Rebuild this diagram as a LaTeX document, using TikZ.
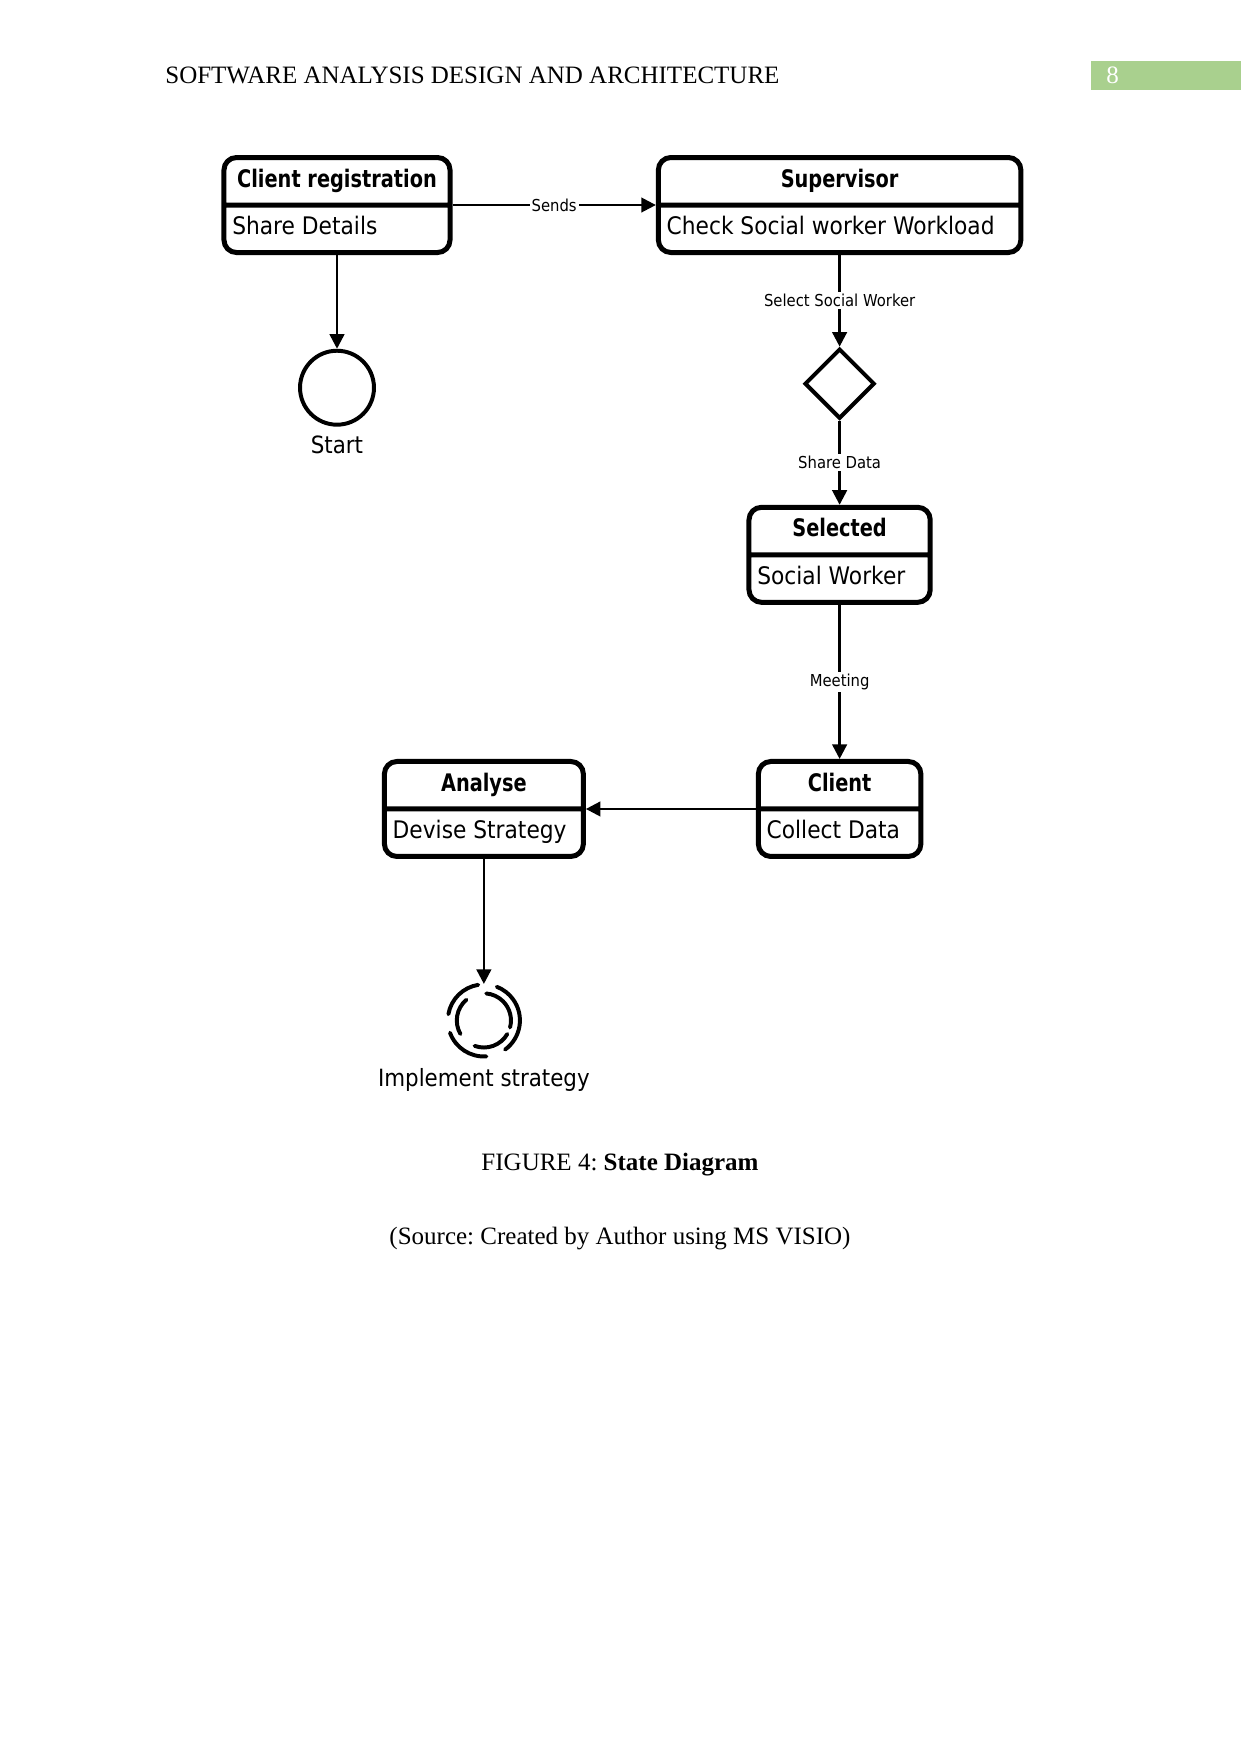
\documentclass[tikz,border=0pt]{standalone}
\usepackage{fontspec}
\setmainfont{Liberation Serif}
\newfontfamily\diafont[FakeStretch=0.9]{DejaVu Sans}
\newfontfamily\diatitle[FakeStretch=0.8]{DejaVu Sans}
\usetikzlibrary{arrows.meta,positioning,shapes.geometric,shapes.multipart}
\definecolor{pagegreen}{HTML}{A9D08E}
\frenchspacing
\tikzset{
  statebox/.style={rectangle split, rectangle split parts=2, rectangle split part align={center,left}, draw, line width=2.4pt, rounded corners=6pt, inner xsep=4pt, inner ysep=3.2pt, font=\diafont\fontsize{11.6}{14}\selectfont},
  endcircle/.style={circle, draw, line width=1.9pt, minimum size=35.5pt, inner sep=0pt},
  choice/.style={diamond, draw, line width=1.9pt, minimum size=33.6pt, inner sep=0pt},
  ringarc/.style={line width=1.9pt, line cap=round},
  flow/.style={-{Triangle[length=7pt,width=7pt]}, line width=1.2pt},
  flowlabel/.style={fill=white, inner sep=1pt, font=\diafont\fontsize{7.9}{9}\selectfont},
  caplabel/.style={font=\diafont\fontsize{11.4}{14}\selectfont}
}

\begin{document}
\begin{tikzpicture}[x=0.48pt, y=-0.48pt]
\useasboundingbox (0,0) rectangle (1241,1754);
% page header
\node[anchor=west, font=\fontsize{12}{14}\selectfont] (header) at (158,75) {SOFTWARE ANALYSIS DESIGN AND ARCHITECTURE};
\fill[pagegreen] (1091,61) rectangle (1241,90);
\node[anchor=west, text=white, font=\fontsize{12}{14}\selectfont] (pagenum) at (1099,75) {8};

% states
\node[statebox, minimum width=108.5pt] (reg) at (337,205) {\diatitle\bfseries\strut Client registration\nodepart{two}\strut Share Details};
\node[statebox, minimum width=174pt, right=97.6pt of reg] (sup) {\diatitle\bfseries\strut Supervisor\nodepart{two}\strut Check Social worker Workload};
\node[endcircle, below=45pt of reg] (start) {};
\node[caplabel, below=1pt of start] (startlbl) {Start};
\node[choice, below=44pt of sup] (dec) {};
\node[statebox, minimum width=87pt, below=40.4pt of dec] (sel) {\diatitle\bfseries\strut Selected\nodepart{two}\strut Social Worker};
\node[statebox, minimum width=78pt, below=74pt of sel] (cli) {\diatitle\bfseries\strut Client\nodepart{two}\strut Collect Data};
\node[statebox, minimum width=95.5pt, left=81.6pt of cli] (ana) {\diatitle\bfseries\strut Analyse\nodepart{two}\strut Devise Strategy};
\node[circle, minimum size=34.6pt, inner sep=0pt, below=60pt of ana] (impl) {};
\node[caplabel, below=2pt of impl] (impllbl) {Implement strategy};

% broken rings of the final state
\draw[ringarc] ([shift={(99:17.3pt)}]impl.center) arc[start angle=99, end angle=170, radius=17.3pt];
\draw[ringarc] ([shift={(200:17.3pt)}]impl.center) arc[start angle=200, end angle=274, radius=17.3pt];
\draw[ringarc] ([shift={(-54:17.3pt)}]impl.center) arc[start angle=-54, end angle=69, radius=17.3pt];
\draw[ringarc] ([shift={(-15:13pt)}]impl.center) arc[start angle=-15, end angle=85, radius=13pt];
\draw[ringarc] ([shift={(-110:13pt)}]impl.center) arc[start angle=-110, end angle=-30, radius=13pt];
\draw[ringarc] ([shift={(130:13pt)}]impl.center) arc[start angle=130, end angle=210, radius=13pt];

% transitions
\draw[flow] (reg) -- node[flowlabel] {Sends} (sup);
\draw[flow] (reg) -- (start);
\draw[flow] (sup) -- node[flowlabel] {Select Social Worker} (dec);
\draw[flow] (dec) -- node[flowlabel] {Share Data} (sel);
\draw[flow] (sel) -- node[flowlabel] {Meeting} (cli);
\draw[flow] (cli) -- (ana);
\draw[flow] (ana) -- (impl);

% caption
\node[font=\fontsize{12}{14}\selectfont] (caption) at (620,1165) {FIGURE 4: \textbf{State Diagram}};
\node[font=\fontsize{12}{14}\selectfont] (source) at (620,1239) {(Source: Created by Author using MS VISIO)};
\end{tikzpicture}
\end{document}
